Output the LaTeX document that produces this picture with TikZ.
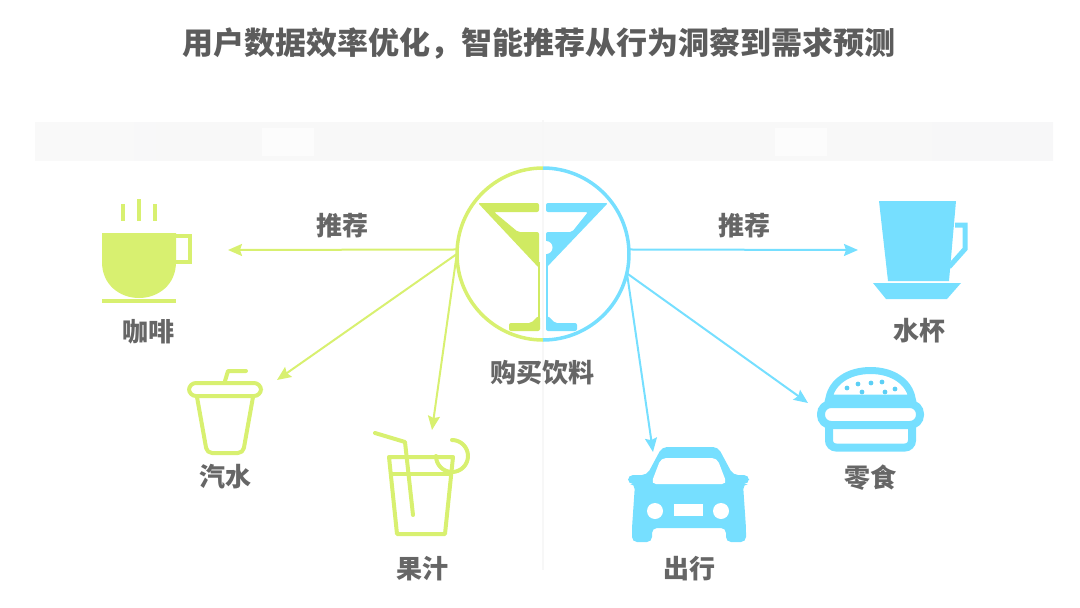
\documentclass[tikz,border=0pt]{standalone}
\usepackage{fontspec}
\newfontfamily\cjk{Noto Sans CJK SC}
\usetikzlibrary{arrows.meta}
\definecolor{lime}{HTML}{D8F070}
\definecolor{limedeep}{HTML}{D0EA62}
\definecolor{sky}{HTML}{76DFFF}
\definecolor{skydot}{HTML}{5CCFF5}
\definecolor{labelgray}{HTML}{666666}
\tikzset{
  lab/.style={font=\cjk\bfseries\fontsize{26}{26}\selectfont,text=labelgray,inner sep=0pt},
  recom/.style={-{Stealth[length=14pt,width=12pt,inset=2pt]},line width=2pt},
  limeline/.style={draw=lime,line width=4pt,line join=round,line cap=round}
}
\begin{document}
\begin{tikzpicture}[x=1pt,y=-1pt]
    \useasboundingbox (0,0) rectangle (1080,608);
    \node[lab,font=\cjk\bfseries\fontsize{31}{31}\selectfont,text=labelgray!90!black] (title) at (539,43)
      {用户数据效率优化，智能推荐从行为洞察到需求预测};
    % band and the faint middle line
    \fill[left color=black!2.5,right color=blue!3!black!3] (35,122) rectangle (1053,160);
    \foreach \x in {262,775}
      \fill[white,opacity=.6] (\x,128) rectangle (\x+52,156);
    \fill[black!3] (542,120) rectangle (544,570);
    % hub
    \node[circle,minimum size=172pt,inner sep=0pt] (cen) at (543,254) {};
    \draw[lime,line width=3.5pt] (543,168) arc[start angle=-90,delta angle=-180,radius=86];
    \draw[sky,line width=3.5pt] (543,168) arc[start angle=-90,delta angle=180,radius=86];
    \fill[limedeep,rounded corners=2pt] (478,203) -- (539,203) -- (539,212) -- (494,212)
      -- (518,232) -- (539,232) -- (539,268) -- cycle;
    \fill[limedeep] (537.5,262) rectangle (540,322);
    \fill[limedeep,rounded corners=2pt] (509,323) -- (531,323) -- (538,316) -- (540,316) -- (540,331) -- (509,331) -- cycle;
    \fill[sky,rounded corners=2pt] (608,203) -- (546,203) -- (546,212) -- (588,212)
      -- (572,232) -- (546,232) -- (546,268) -- cycle;
    \fill[white] (546,241) arc[start angle=-90,delta angle=180,radius=6.5] -- cycle;
    \fill[sky] (545.5,262) rectangle (548,322);
    \fill[sky,rounded corners=2pt] (577,323) -- (555,323) -- (548,316) -- (546,316) -- (546,331) -- (577,331) -- cycle;
    % labels
    \foreach \n/\x/\y/\t in {hubl/542/373/购买饮料,coffeel/148/332/咖啡,sodal/225/477/汽水,
      juicel/422/569/果汁,carl/689/569/出行,burgerl/870/478/零食,mugl/919/331/水杯,
      recoml/342/226/推荐,recomr/744/226/推荐}
      \node[lab] (\n) at (\x,\y) {\t};
    % arrows
    \foreach \n/\x/\y in {coffeep/228/250,sodap/277/380,juicep/432/430,mugp/858/250,burgerp/808/403,carp/653/452}
      \coordinate (\n) at (\x,\y);
    \draw[recom,lime] (cen.177) -- (coffeep);
    \foreach \n in {sodap,juicep}
      \draw[recom,lime] (cen.180) -- (\n);
    \draw[recom,sky] (cen.3) -- (mugp);
    \foreach \n in {burgerp,carp}
      \draw[recom,sky] (cen.-13) -- (\n);
    % coffee
    \fill[lime] (102,233) -- (176,233) -- (176,262) .. controls (176,285) and (158,298) .. (139,298)
      .. controls (120,298) and (102,285) .. (102,262) -- cycle;
    \fill[lime] (102,299) rectangle (176,303);
    \draw[lime,line width=4pt] (176,236) -- (189.5,236) -- (189.5,262) -- (176,262);
    \foreach \x/\y in {123/204,139/199,155/204}
      \draw[lime,line width=3.5pt] (\x,\y) -- (\x,221);
    % soda
    \draw[limeline,rounded corners=7pt] (189,383) rectangle (261,396);
    \draw[limeline,rounded corners=5pt] (197,397) -- (207,453) -- (243,453) -- (253,397);
    \draw[limeline] (225,381) -- (228,371) -- (246,371);
    % juice
    \draw[limeline] (389,457) -- (453,457) -- (445,534) -- (397,534) -- cycle;
    \draw[limeline] (391,474) -- (451,474);
    \draw[limeline] (375,433) -- (405,442) -- (413,515);
    \draw[limeline] (436,456) arc[start angle=180,end angle=-90,radius=16];
    % car
    \fill[sky,rounded corners=5pt] (662,447) -- (718,447) -- (733,475) -- (749,475) -- (749,484) -- (743,484)
      -- (746,528) -- (746,542) -- (726,542) -- (726,528) -- (652,528) -- (652,542) -- (632,542) -- (632,528)
      -- (635,484) -- (628,484) -- (628,475) -- (647,475) -- cycle;
    \fill[white,rounded corners=5pt] (661,458) -- (717,458) -- (727,484) -- (651,484) -- cycle;
    \foreach \x in {655,721}
      \fill[white] (\x,511) circle (8);
    \fill[white] (674,504) rectangle (703,516);
    % burger
    \draw[sky,line width=7pt] (829,398) .. controls (832,382) and (848,370.5) .. (870.5,370.5)
      .. controls (893,370.5) and (909,382) .. (912,398) -- cycle;
    \draw[sky,line width=8pt,rounded corners=10pt] (821,404) rectangle (920,425);
    \draw[sky,line width=8pt,rounded corners=7pt] (829,428) -- (829,447.5) -- (912,447.5) -- (912,428);
    \foreach \x/\y in {847/388,858/384,871/383,882/382,862/392,885/392,895/389}
      \fill[skydot] (\x,\y) circle (2.4);
    % mug
    \fill[sky] (879,201) -- (956,201) -- (949,281) -- (888,281) -- cycle;
    \draw[sky,line width=5pt,line join=miter] (955,225) -- (965,225) -- (965,249) -- (949,267);
    \fill[sky] (873,283) -- (961,283) -- (947,299) -- (886,299) -- cycle;
\end{tikzpicture}
\end{document}
